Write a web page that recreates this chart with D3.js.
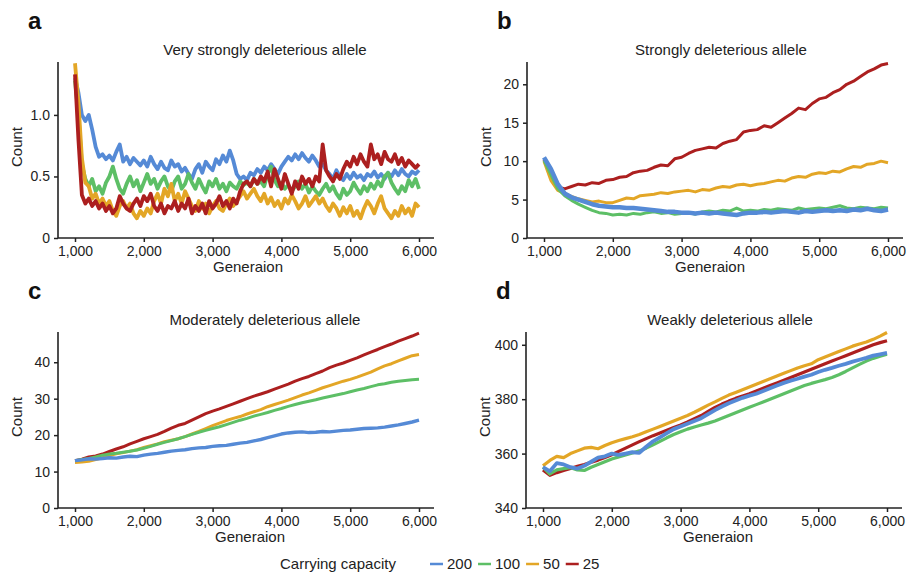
<!DOCTYPE html>
<html>
<head>
<meta charset="utf-8">
<script src="https://cdn.jsdelivr.net/npm/d3@7"></script>
<style>
  body { margin: 0; background: #fff; }
  svg { display: block; font-family: "Liberation Sans", Arial, sans-serif; }
</style>
</head>
<body>
<div id="chart"></div>
<script>
// series labels (carrying capacity) and colours
const capacities = ["200", "100", "50", "25"];
const colors = ["#558ad6", "#5dbf66", "#e3a626", "#ac1f1f"];

// generations sampled
const gensA = d3.range(1000, 6001, 50);
const gensB = d3.range(1000, 6001, 100);

// a) very strongly deleterious
const a200 = [1.30, 1.18, 1.00, 0.95, 1.00, 0.88, 0.74, 0.66, 0.68, 0.64,
  0.67, 0.63, 0.70, 0.76, 0.62, 0.66, 0.60, 0.65, 0.62, 0.59,
  0.63, 0.58, 0.66, 0.60, 0.56, 0.62, 0.57, 0.55, 0.63, 0.58,
  0.60, 0.54, 0.57, 0.52, 0.48, 0.56, 0.60, 0.53, 0.62, 0.58,
  0.55, 0.64, 0.60, 0.67, 0.62, 0.71, 0.63, 0.52, 0.48, 0.50,
  0.47, 0.53, 0.51, 0.56, 0.53, 0.58, 0.55, 0.60, 0.56, 0.52,
  0.58, 0.62, 0.66, 0.63, 0.68, 0.64, 0.69, 0.65, 0.62, 0.67,
  0.63, 0.58, 0.60, 0.55, 0.52, 0.48, 0.55, 0.50, 0.47, 0.52,
  0.48, 0.53, 0.49, 0.51, 0.47, 0.52, 0.50, 0.54, 0.49, 0.52,
  0.48, 0.53, 0.50, 0.55, 0.51, 0.56, 0.52, 0.50, 0.54, 0.52,
  0.55];
const a100 = [1.28, 1.00, 0.60, 0.48, 0.42, 0.48, 0.38, 0.42, 0.36, 0.45,
  0.50, 0.58, 0.48, 0.40, 0.36, 0.44, 0.50, 0.42, 0.47, 0.38,
  0.45, 0.52, 0.44, 0.48, 0.40, 0.46, 0.50, 0.42, 0.38, 0.46,
  0.50, 0.40, 0.44, 0.52, 0.45, 0.40, 0.48, 0.42, 0.37, 0.46,
  0.42, 0.48, 0.40, 0.44, 0.38, 0.45, 0.42, 0.40, 0.46, 0.43,
  0.45, 0.42, 0.48, 0.44, 0.46, 0.42, 0.52, 0.58, 0.47, 0.42,
  0.45, 0.40, 0.43, 0.38, 0.42, 0.46, 0.40, 0.44, 0.37, 0.42,
  0.38, 0.35, 0.40, 0.44, 0.38, 0.42, 0.36, 0.32, 0.40, 0.35,
  0.38, 0.45, 0.40, 0.36, 0.42, 0.38, 0.44, 0.40, 0.46, 0.42,
  0.50, 0.53, 0.45, 0.40, 0.36, 0.42, 0.38, 0.47, 0.42, 0.48,
  0.40];
const a50 = [1.42, 1.10, 0.65, 0.45, 0.42, 0.32, 0.36, 0.28, 0.32, 0.26,
  0.30, 0.22, 0.18, 0.26, 0.30, 0.24, 0.28, 0.20, 0.16, 0.22,
  0.18, 0.24, 0.20, 0.30, 0.36, 0.28, 0.40, 0.34, 0.44, 0.30,
  0.36, 0.28, 0.38, 0.32, 0.26, 0.22, 0.30, 0.24, 0.28, 0.20,
  0.26, 0.30, 0.24, 0.22, 0.28, 0.32, 0.26, 0.30, 0.34, 0.38,
  0.32, 0.36, 0.40, 0.34, 0.30, 0.36, 0.28, 0.33, 0.26, 0.30,
  0.24, 0.32, 0.28, 0.35, 0.30, 0.24, 0.28, 0.34, 0.26, 0.30,
  0.34, 0.28, 0.32, 0.26, 0.22, 0.28, 0.24, 0.18, 0.25, 0.20,
  0.26, 0.18, 0.22, 0.16, 0.24, 0.30, 0.26, 0.20, 0.28, 0.34,
  0.24, 0.20, 0.16, 0.22, 0.18, 0.26, 0.20, 0.24, 0.18, 0.28,
  0.25];
const a25 = [1.33, 0.80, 0.35, 0.28, 0.32, 0.26, 0.30, 0.24, 0.28, 0.22,
  0.26, 0.20, 0.24, 0.34, 0.28, 0.24, 0.22, 0.28, 0.32, 0.26,
  0.34, 0.30, 0.36, 0.26, 0.22, 0.28, 0.20, 0.26, 0.24, 0.30,
  0.22, 0.28, 0.24, 0.32, 0.20, 0.26, 0.22, 0.28, 0.20, 0.30,
  0.24, 0.28, 0.34, 0.26, 0.30, 0.24, 0.32, 0.28, 0.38, 0.44,
  0.46, 0.42, 0.48, 0.44, 0.50, 0.46, 0.54, 0.42, 0.56, 0.48,
  0.40, 0.52, 0.44, 0.36, 0.46, 0.40, 0.50, 0.44, 0.48, 0.42,
  0.50, 0.46, 0.76, 0.55, 0.50, 0.46, 0.52, 0.48, 0.56, 0.62,
  0.58, 0.66, 0.60, 0.68, 0.62, 0.58, 0.76, 0.64, 0.68, 0.60,
  0.70, 0.64, 0.62, 0.68, 0.60, 0.65, 0.58, 0.63, 0.60, 0.57,
  0.60];

// b) strongly deleterious
const b200 = [10.5, 9.0, 7.0, 5.8, 5.3, 5.0, 4.7, 4.4, 4.2, 4.1,
  4.0, 4.0, 3.9, 3.9, 3.8, 3.7, 3.6, 3.5, 3.4, 3.4,
  3.3, 3.3, 3.2, 3.3, 3.2, 3.3, 3.2, 3.1, 3.0, 3.2,
  3.3, 3.3, 3.4, 3.3, 3.4, 3.5, 3.4, 3.3, 3.5, 3.4,
  3.5, 3.6, 3.5, 3.6, 3.5, 3.7, 3.6, 3.8, 3.6, 3.5,
  3.7];
const b100 = [10.1, 8.2, 6.4, 5.5, 4.9, 4.4, 4.0, 3.6, 3.3, 3.2,
  3.0, 3.1, 3.0, 3.2, 3.1, 3.3, 3.4, 3.2, 3.3, 3.1,
  3.2, 3.3, 3.1, 3.4, 3.5, 3.4, 3.6, 3.5, 3.9, 3.5,
  3.6, 3.5, 3.7, 3.6, 3.8, 3.7, 3.6, 3.9, 3.7, 3.8,
  3.9, 3.8, 4.0, 4.2, 3.9, 3.8, 4.0, 3.9, 3.8, 4.0,
  3.9];
const b50 = [10.0, 7.5, 6.2, 5.8, 5.4, 5.1, 4.9, 4.7, 4.8, 4.6,
  4.6, 4.9, 5.2, 5.1, 5.5, 5.6, 5.7, 5.9, 5.8, 6.0,
  6.1, 6.2, 6.0, 6.3, 6.2, 6.5, 6.7, 6.6, 6.9, 7.0,
  6.8, 7.0, 7.1, 7.3, 7.5, 7.4, 7.8, 8.0, 7.9, 8.3,
  8.5, 8.4, 8.7, 8.6, 9.0, 9.3, 9.2, 9.6, 9.7, 10.0,
  9.8];
const b25 = [10.2, 8.0, 6.6, 6.4, 6.7, 7.0, 6.9, 7.2, 7.1, 7.5,
  7.6, 7.9, 8.0, 8.5, 8.7, 8.8, 9.2, 9.5, 9.4, 10.3,
  10.5, 11.0, 11.4, 11.6, 11.8, 11.7, 12.3, 12.6, 12.8, 13.8,
  14.0, 14.1, 14.6, 14.4, 15.0, 15.6, 16.2, 16.9, 16.7, 17.5,
  18.1, 18.3, 18.9, 19.3, 20.0, 20.4, 21.0, 21.6, 22.0, 22.5,
  22.7];

// c) moderately deleterious
const c200 = [13.0, 13.2, 13.5, 13.4, 13.6, 13.8, 13.7, 14.0, 14.2, 14.1,
  14.5, 14.8, 15.0, 15.3, 15.6, 15.8, 16.0, 16.3, 16.5, 16.6,
  16.9, 17.1, 17.2, 17.5, 17.8, 18.0, 18.4, 18.8, 19.3, 19.8,
  20.3, 20.6, 20.8, 20.9, 20.7, 20.8, 21.0, 20.9, 21.1, 21.3,
  21.4, 21.6, 21.8, 21.9, 22.0, 22.2, 22.5, 22.8, 23.2, 23.6,
  24.1];
const c100 = [13.0, 13.3, 13.6, 14.0, 14.5, 14.8, 15.0, 15.3, 15.6, 15.9,
  16.4, 16.9, 17.5, 18.0, 18.5, 19.0, 19.6, 20.2, 20.8, 21.3,
  21.8, 22.3, 22.9, 23.5, 24.1, 24.6, 25.2, 25.7, 26.2, 26.8,
  27.3, 27.9, 28.4, 28.9, 29.3, 29.7, 30.2, 30.6, 31.0, 31.4,
  31.9, 32.4, 32.8, 33.3, 33.8, 34.1, 34.5, 34.8, 35.0, 35.2,
  35.3];
const c50 = [12.5, 12.6, 12.8, 13.3, 13.8, 14.4, 14.9, 15.2, 15.6, 16.0,
  16.6, 17.1, 17.6, 18.2, 18.6, 19.0, 19.6, 20.3, 21.0, 21.8,
  22.6, 23.3, 24.0, 24.6, 25.1, 25.8, 26.4, 27.0, 27.8, 28.4,
  29.0, 29.6, 30.3, 31.0, 31.6, 32.3, 33.0, 33.6, 34.2, 34.8,
  35.3, 35.9, 36.6, 37.3, 38.2, 39.0, 39.6, 40.4, 41.1, 41.8,
  42.1];
const c25 = [13.0, 13.4, 14.0, 14.3, 14.8, 15.5, 16.2, 16.8, 17.6, 18.3,
  19.0, 19.6, 20.2, 21.0, 21.9, 22.7, 23.2, 24.1, 25.0, 25.9,
  26.6, 27.2, 27.9, 28.6, 29.3, 30.0, 30.7, 31.3, 31.9, 32.6,
  33.3, 34.0, 34.8, 35.5, 36.1, 36.9, 37.6, 38.5, 39.2, 39.8,
  40.5, 41.2, 42.0, 42.8, 43.5, 44.3, 45.0, 45.8, 46.5, 47.2,
  48.0];

// d) weakly deleterious
const d200 = [355.0, 353.5, 356.5, 356.0, 355.0, 354.5, 355.5, 357.0, 358.5, 359.0,
  360.0, 359.5, 360.0, 360.5, 360.3, 362.5, 364.5, 366.0, 367.5, 369.0,
  370.0, 371.0, 372.0, 373.0, 374.5, 376.0, 377.3, 378.5, 379.5, 380.5,
  381.3, 382.0, 383.0, 384.0, 385.0, 386.0, 386.8, 387.5, 388.3, 389.0,
  390.0, 390.8, 391.5, 392.3, 393.0, 393.8, 394.5, 395.2, 396.0, 396.5,
  397.0];
const d100 = [355.0, 352.5, 354.0, 354.5, 354.8, 354.0, 353.8, 355.0, 356.0, 357.0,
  358.0, 358.8, 359.5, 360.2, 361.0, 362.0, 363.2, 364.5, 365.8, 367.0,
  368.0, 369.0, 369.8, 370.5, 371.2, 372.0, 373.0, 374.0, 375.0, 376.0,
  377.0, 378.0, 379.0, 380.0, 381.0, 382.0, 383.0, 384.0, 385.0, 385.8,
  386.5, 387.2, 388.0, 389.0, 390.2, 391.5, 392.8, 394.0, 395.0, 395.8,
  396.5];
const d50 = [355.5, 357.5, 359.0, 358.5, 360.0, 361.0, 362.0, 362.3, 361.8, 363.0,
  364.0, 364.8, 365.5, 366.2, 367.0, 368.0, 369.0, 370.0, 371.0, 372.0,
  373.0, 374.0, 375.2, 376.5, 377.8, 379.0, 380.3, 381.5, 382.5, 383.5,
  384.5, 385.5, 386.5, 387.5, 388.5, 389.5, 390.5, 391.5, 392.3, 393.0,
  394.5, 395.5, 396.5, 397.5, 398.5, 399.5, 400.3, 401.0, 402.0, 403.2,
  404.5];
const d25 = [354.0, 352.0, 353.0, 353.8, 354.5, 355.3, 356.0, 356.8, 357.6, 358.6,
  359.6, 360.8, 362.0, 363.2, 364.4, 365.5, 366.6, 367.6, 368.6, 369.6,
  370.5, 371.6, 372.8, 374.0, 375.5, 377.0, 378.2, 379.3, 380.3, 381.2,
  382.0, 383.0, 384.0, 385.0, 386.0, 387.0, 388.0, 389.0, 390.0, 391.0,
  392.0, 393.0, 394.0, 395.0, 396.0, 397.0, 398.0, 399.0, 400.0, 400.8,
  401.5];

const xTicks = [1000, 2000, 3000, 4000, 5000, 6000];

// panel setup
const panels = [
  { letter: "a", title: "Very strongly deleterious allele", gens: gensA,
    series: [a200, a100, a50, a25], order: [0, 1, 2, 3], lw: [3.8, 3.8, 3.8, 3.8],
    yDomain: [0, 1.43], yTicks: [0, 0.5, 1.0], fmt: d => d === 0 ? "0" : d3.format(".1f")(d),
    ox: 0, oy: 0, tx: 265, gx: 248 },
  { letter: "b", title: "Strongly deleterious allele", gens: gensB,
    series: [b200, b100, b50, b25], order: [3, 2, 1, 0], lw: [4.5, 3, 3, 3],
    yDomain: [0, 22.9], yTicks: [0, 5, 10, 15, 20], fmt: d3.format("d"),
    ox: 469, oy: 0, tx: 252, gx: 241 },
  { letter: "c", title: "Moderately deleterious allele", gens: gensB,
    series: [c200, c100, c50, c25], order: [3, 2, 1, 0], lw: [3.4, 3, 3, 3],
    yDomain: [0, 48.3], yTicks: [0, 10, 20, 30, 40], fmt: d3.format("d"),
    ox: 0, oy: 270, tx: 265, gx: 250 },
  { letter: "d", title: "Weakly deleterious allele", gens: gensB,
    series: [d200, d100, d50, d25], order: [2, 3, 1, 0], lw: [3.8, 3.2, 3.2, 3.2],
    yDomain: [340, 404.7], yTicks: [340, 360, 380, 400], fmt: d3.format("d"),
    ox: 468, oy: 270, tx: 262, gx: 250 }
];

const svg = d3.select("#chart").append("svg")
  .attr("width", 912)
  .attr("height", 576);

const axisColor = "#222";

panels.forEach(p => {
  const g = svg.append("g").attr("transform", `translate(${p.ox},${p.oy})`);
  const left = 58, right = 434, top = 62, bottom = 238;

  const x = d3.scaleLinear().domain([1000, 6000]).range([75, 419]);
  const y = d3.scaleLinear().domain(p.yDomain).range([bottom, top]);

  // panel letter
  g.append("text")
    .attr("x", 28).attr("y", 29)
    .style("font-size", "24px").style("font-weight", "bold")
    .style("fill", "#111")
    .text(p.letter);

  // title
  g.append("text")
    .attr("x", p.tx).attr("y", 55)
    .attr("text-anchor", "middle")
    .style("font-size", "15px").style("fill", "#222")
    .text(p.title);

  // lines
  const line = d3.line()
    .x((d, i) => x(p.gens[i]))
    .y(d => y(d));
  p.order.forEach(k => {
    g.append("path")
      .datum(p.series[k])
      .attr("d", line)
      .style("fill", "none")
      .style("stroke", colors[k])
      .style("stroke-width", p.lw[k])
      .style("stroke-linejoin", "round");
  });

  // x axis
  const xa = g.append("g")
    .attr("transform", `translate(0,${bottom})`)
    .call(d3.axisBottom(x).tickValues(xTicks).tickFormat(d3.format(",")).tickSizeOuter(0).tickSize(4).tickPadding(4));
  xa.select(".domain").remove();
  xa.selectAll("line").style("stroke", axisColor).style("stroke-width", 1.5);
  xa.selectAll("text").style("font-size", "14px").style("fill", "#222")
    .style("font-family", "'Liberation Sans', Arial, sans-serif");
  g.append("line")
    .attr("x1", left).attr("x2", right)
    .attr("y1", bottom).attr("y2", bottom)
    .style("stroke", axisColor).style("stroke-width", 1.6);

  // y axis
  const ya = g.append("g")
    .attr("transform", `translate(${left},0)`)
    .call(d3.axisLeft(y).tickValues(p.yTicks).tickFormat(p.fmt).tickSizeOuter(0).tickSize(4).tickPadding(4));
  ya.select(".domain").remove();
  ya.selectAll("line").style("stroke", axisColor).style("stroke-width", 1.5);
  ya.selectAll("text").style("font-size", "14px").style("fill", "#222")
    .style("font-family", "'Liberation Sans', Arial, sans-serif");
  g.append("line")
    .attr("x1", left).attr("x2", left)
    .attr("y1", top).attr("y2", bottom)
    .style("stroke", axisColor).style("stroke-width", 1.6);

  // axis titles
  g.append("text")
    .attr("x", p.gx).attr("y", 272)
    .attr("text-anchor", "middle")
    .style("font-size", "15px").style("fill", "#222")
    .text("Generaion");
  g.append("text")
    .attr("transform", `translate(22,${(top + bottom) / 2 - 3}) rotate(-90)`)
    .attr("text-anchor", "middle")
    .style("font-size", "15px").style("fill", "#222")
    .text("Count");
});

// legend
const legend = svg.append("g").attr("transform", "translate(280,569)");
legend.append("text")
  .attr("x", 0).attr("y", 0)
  .style("font-size", "15px").style("fill", "#222")
  .text("Carrying capacity");

let lx = 150;
capacities.forEach((c, i) => {
  legend.append("line")
    .attr("x1", lx).attr("x2", lx + 13)
    .attr("y1", -5).attr("y2", -5)
    .style("stroke", colors[i]).style("stroke-width", 2.5);
  const t = legend.append("text")
    .attr("x", lx + 17).attr("y", 0)
    .style("font-size", "15px").style("fill", "#222")
    .text(c);
  lx += 17 + t.node().getComputedTextLength() + 6;
});
</script>
</body>
</html>
